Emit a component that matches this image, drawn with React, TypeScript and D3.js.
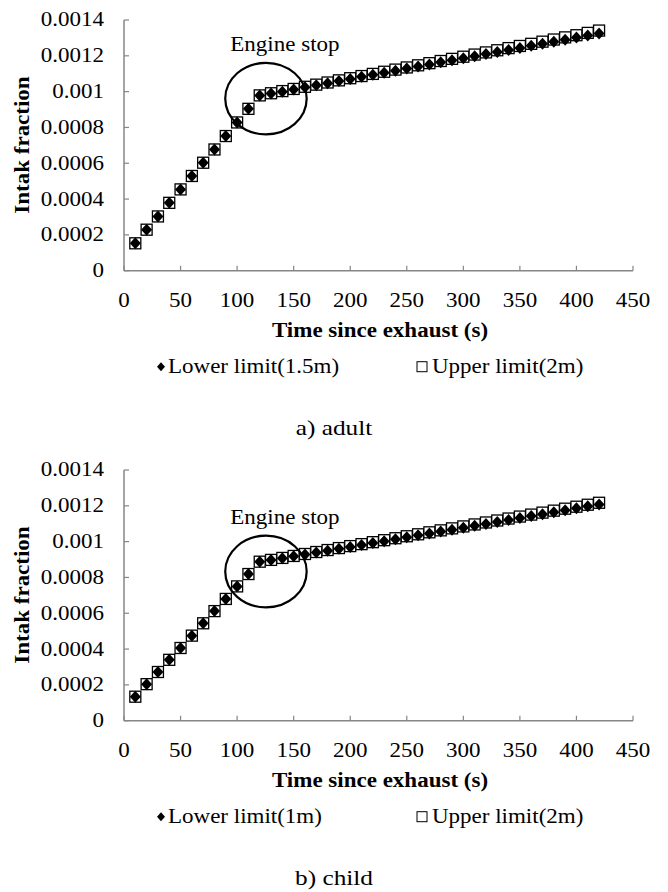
import * as d3 from "d3";

// time since exhaust (s)
const times = [
  10, 20, 30, 40, 50, 60, 70, 80, 90, 100, 110, 120, 130, 140, 150, 160, 170, 180, 190, 200, 210,
  220, 230, 240, 250, 260, 270, 280, 290, 300, 310, 320, 330, 340, 350, 360, 370, 380, 390, 400, 410, 420,
];

// a) adult
const adultLower = [
  0.000153, 0.000229, 0.000303, 0.000379, 0.000454, 0.000529, 0.000603, 0.000677, 0.000752, 0.000828,
  0.000904, 0.000978, 0.000989, 0.001, 0.001012, 0.001024, 0.001036, 0.001047, 0.001059, 0.001071,
  0.001083, 0.001094, 0.001106, 0.001117, 0.001129, 0.001141, 0.001152, 0.001164, 0.001175, 0.001187,
  0.001198, 0.00121, 0.001221, 0.001233, 0.001244, 0.001256, 0.001267, 0.001279, 0.00129, 0.001302,
  0.001313, 0.001325,
];
const adultUpper = [
  0.000153, 0.000229, 0.000303, 0.000379, 0.000454, 0.000529, 0.000603, 0.000677, 0.000752, 0.000828,
  0.000904, 0.000979, 0.000991, 0.001003, 0.001015, 0.001027, 0.001039, 0.001051, 0.001063, 0.001075,
  0.001087, 0.001099, 0.001111, 0.001123, 0.001135, 0.001147, 0.001159, 0.001171, 0.001183, 0.001195,
  0.001207, 0.001219, 0.001231, 0.001243, 0.001255, 0.001267, 0.001279, 0.001291, 0.001303, 0.001315,
  0.001328, 0.001341,
];

// b) child
const childLower = [
  0.000134, 0.000204, 0.000272, 0.00034, 0.000406, 0.000475, 0.000544, 0.000612, 0.00068, 0.00075,
  0.000819, 0.000887, 0.000897, 0.000907, 0.000918, 0.000928, 0.000939, 0.000949, 0.00096, 0.00097,
  0.000981, 0.000992, 0.001002, 0.001013, 0.001024, 0.001035, 0.001045, 0.001056, 0.001067, 0.001078,
  0.001088, 0.001099, 0.00111, 0.001121, 0.001132, 0.001143, 0.001153, 0.001164, 0.001175, 0.001186,
  0.001197, 0.001208,
];
const childUpper = [
  0.000134, 0.000204, 0.000272, 0.00034, 0.000406, 0.000475, 0.000544, 0.000612, 0.00068, 0.00075,
  0.000819, 0.000888, 0.000898, 0.000909, 0.00092, 0.000931, 0.000942, 0.000953, 0.000964, 0.000975,
  0.000986, 0.000997, 0.001008, 0.001019, 0.00103, 0.001041, 0.001052, 0.001063, 0.001074, 0.001085,
  0.001096, 0.001107, 0.001118, 0.001129, 0.00114, 0.001151, 0.001162, 0.001173, 0.001184, 0.001195,
  0.001206, 0.001217,
];

const xTicks = [0, 50, 100, 150, 200, 250, 300, 350, 400, 450];
const yTicks = [0, 0.0002, 0.0004, 0.0006, 0.0008, 0.001, 0.0012, 0.0014];
const yTickLabels = ["0", "0.0002", "0.0004", "0.0006", "0.0008", "0.001", "0.0012", "0.0014"];

const panels = [
  {
    lower: adultLower,
    upper: adultUpper,
    lowerName: "Lower limit(1.5m)",
    upperName: "Upper limit(2m)",
    caption: "a) adult",
    // engine stop ellipse: centre (s, fraction), radii (s, fraction)
    ring: [125.5, 0.000961, 36, 0.0002],
    note: [94, 0.001265],
  },
  {
    lower: childLower,
    upper: childUpper,
    lowerName: "Lower limit(1m)",
    upperName: "Upper limit(2m)",
    caption: "b) child",
    ring: [125.5, 0.000833, 36, 0.0002],
    note: [94, 0.001135],
  },
];

const FONT = "Liberation Serif";
const SX = 1.15; // glyphs in the source are a bit wider than Times

const Txt = ({ x, y, children, anchor = "start", bold = false, rotate = 0, size = 20 }: any) => (
  <text
    transform={`translate(${x},${y}) rotate(${rotate}) scale(${SX},1)`}
    textAnchor={anchor}
    dominantBaseline="central"
    fontFamily={FONT}
    fontSize={size}
    fontWeight={bold ? "bold" : "normal"}
    fill="#000"
  >
    {children}
  </text>
);

// wider Excel-style diamond
const diamondPath = (w: number, h: number) =>
  d3.line()([
    [0, -h / 2],
    [w / 2, 0],
    [0, h / 2],
    [-w / 2, 0],
  ]) + "Z";

const Panel = ({ p, top }: any) => {
  const left = 124;
  const right = 633;
  const h = 250.7;
  const x = d3.scaleLinear().domain([0, 450]).range([left, right]);
  const y = d3.scaleLinear().domain([0, 0.0014]).range([top + h, top]);
  const axisCol = "#868686";
  const diamond = diamondPath(11, 12);
  const [cx, cy, rx, ry] = p.ring;

  return (
    <g>
      {/* axes */}
      <line x1={left} x2={left} y1={y(0.0014)} y2={y(0)} stroke={axisCol} strokeWidth={1.5} />
      <line x1={left} x2={right} y1={y(0)} y2={y(0)} stroke={axisCol} strokeWidth={1.5} />
      {yTicks.map((t, i) => (
        <g key={"y" + i}>
          <line x1={left} x2={left + 5} y1={y(t)} y2={y(t)} stroke={axisCol} strokeWidth={1.2} />
          <Txt x={left - 20} y={y(t)} anchor="end">
            {yTickLabels[i]}
          </Txt>
        </g>
      ))}
      {xTicks.map((t) => (
        <g key={"x" + t}>
          <line x1={x(t)} x2={x(t)} y1={y(0)} y2={y(0) - 5} stroke={axisCol} strokeWidth={1.2} />
          <Txt x={x(t)} y={y(0) + 30} anchor="middle">
            {t}
          </Txt>
        </g>
      ))}
      <Txt x={23} y={top + 125} anchor="middle" bold rotate={-90}>
        Intak fraction
      </Txt>
      <Txt x={380} y={y(0) + 60} anchor="middle" bold>
        Time since exhaust (s)
      </Txt>

      {/* markers: squares behind, diamonds on top */}
      {times.map((t, i) => (
        <rect
          key={"u" + t}
          x={x(t) - 5.5}
          y={y(p.upper[i]) - 5.5}
          width={11}
          height={11}
          fill="#fff"
          stroke="#000"
          strokeWidth={1.3}
        />
      ))}
      {times.map((t, i) => (
        <path key={"l" + t} d={diamond} transform={`translate(${x(t)},${y(p.lower[i])})`} fill="#000" />
      ))}

      {/* annotation */}
      <ellipse
        cx={x(cx)}
        cy={y(cy)}
        rx={x(rx) - x(0)}
        ry={y(0) - y(ry)}
        fill="none"
        stroke="#000"
        strokeWidth={2.2}
      />
      <Txt x={x(p.note[0])} y={y(p.note[1])}>
        Engine stop
      </Txt>

      {/* legend */}
      <path d={diamondPath(8, 9)} transform={`translate(161,${y(0) + 96})`} fill="#000" />
      <Txt x={168} y={y(0) + 96}>
        {p.lowerName}
      </Txt>
      <rect x={417} y={y(0) + 91} width={10} height={10} fill="#fff" stroke="#000" strokeWidth={1} />
      <Txt x={432} y={y(0) + 96}>
        {p.upperName}
      </Txt>

      <Txt x={334} y={y(0) + 157} anchor="middle" size={22}>
        {p.caption}
      </Txt>
    </g>
  );
};

export default function App() {
  return (
    <svg
      width={668}
      height={892}
      style={{ position: "absolute", left: 0, top: 0, background: "#fff" }}
    >
      <rect width={668} height={892} fill="#fff" />
      <Panel p={panels[0]} top={20} />
      <Panel p={panels[1]} top={470} />
    </svg>
  );
}
